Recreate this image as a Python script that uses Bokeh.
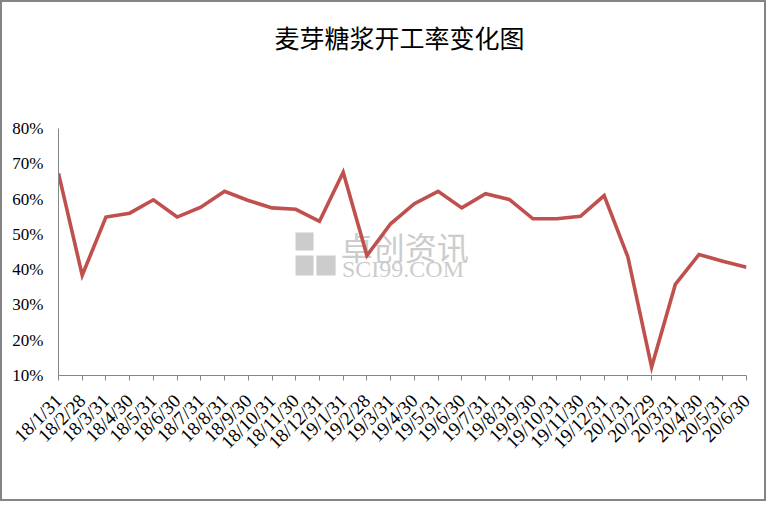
from bokeh.plotting import figure
from bokeh.models import Range1d, FixedTicker, Label, BoxAnnotation
from bokeh.embed import file_html
from bokeh.resources import INLINE
from math import pi

dates = ["18/1/31", "18/2/28", "18/3/31", "18/4/30", "18/5/31", "18/6/30",
         "18/7/31", "18/8/31", "18/9/30", "18/10/31", "18/11/30", "18/12/31",
         "19/1/31", "19/2/28", "19/3/31", "19/4/30", "19/5/31", "19/6/30",
         "19/7/31", "19/8/31", "19/9/30", "19/10/31", "19/11/30", "19/12/31",
         "20/1/31", "20/2/29", "20/3/31", "20/4/30", "20/5/31", "20/6/30"]
rates = [67.3, 38.4, 54.9, 56.0, 59.8, 54.9,
         57.7, 62.2, 59.6, 57.5, 57.1, 53.7,
         67.6, 44.0, 53.0, 58.7, 62.2, 57.5,
         61.5, 59.9, 54.4, 54.4, 55.1, 61.0,
         43.6, 12.4, 35.8, 44.3, 42.4, 40.7]
y_ticks = [10, 20, 30, 40, 50, 60, 70, 80]
y_tick_labels = ["10%", "20%", "30%", "40%", "50%", "60%", "70%", "80%"]
title_text = "麦芽糖浆开工率变化图"

xs = list(range(len(dates)))

# the frame reaches up to the top so the title can sit inside it;
# the y axis line itself is bounded to 10%..80%
p = figure(width=766, height=501, output_backend="svg", toolbar_location=None,
           x_range=Range1d(0, len(dates) - 1), y_range=Range1d(y_ticks[0], 112.87),
           min_border_left=56, min_border_right=22, min_border_top=10, min_border_bottom=128,
           background_fill_color="white", border_fill_color="white")
p.styles = {"border": "2px solid #858585"}
p.outline_line_color = None
p.xgrid.grid_line_color = None
p.ygrid.grid_line_color = None

# watermark
wm_color = "#cccccc"
p.add_layout(BoxAnnotation(left=9.99, right=10.75, bottom=45.43, top=50.53,
                           fill_color=wm_color, fill_alpha=1, line_color=None, level="underlay"))
p.add_layout(BoxAnnotation(left=9.99, right=10.75, bottom=38.34, top=44.0,
                           fill_color=wm_color, fill_alpha=1, line_color=None, level="underlay"))
p.add_layout(BoxAnnotation(left=10.87, right=11.68, bottom=38.34, top=44.0,
                           fill_color=wm_color, fill_alpha=1, line_color=None, level="underlay"))
p.add_layout(Label(x=11.9, y=46.8, text="卓创资讯", text_font="Noto Sans CJK SC",
                   text_font_size="32px", text_color=wm_color, text_baseline="middle",
                   level="underlay"))
p.add_layout(Label(x=11.95, y=40.3, text="SCI99.COM", text_font="Liberation Serif",
                   text_font_size="24px", text_color=wm_color, text_baseline="middle",
                   level="underlay"))

p.line(xs, rates, line_color="#C0504D", line_width=3.6, line_join="miter")

# chart title
p.add_layout(Label(x=14.37, y=105.8, text=title_text, text_font="Noto Sans CJK SC",
                   text_font_size="25px", text_color="#000000", text_align="center",
                   text_baseline="middle"))

ax = p.xaxis[0]
ax.ticker = FixedTicker(ticks=xs)
ax.major_label_overrides = {i: d for i, d in enumerate(dates)}
ax.major_label_orientation = pi / 4
ax.major_label_text_font = "Liberation Serif"
ax.major_label_text_font_size = "19px"
ax.major_label_text_color = "#000000"
ax.major_label_standoff = 17
ax.axis_line_color = "#868686"
ax.major_tick_line_color = "#868686"
ax.major_tick_out = 5
ax.major_tick_in = 0
ax.minor_tick_line_color = None

ay = p.yaxis[0]
ay.ticker = FixedTicker(ticks=y_ticks)
ay.bounds = (y_ticks[0], y_ticks[-1])
ay.major_label_overrides = {v: s for v, s in zip(y_ticks, y_tick_labels)}
ay.major_label_text_font = "Liberation Serif"
ay.major_label_text_font_size = "17px"
ay.major_label_text_color = "#000000"
ay.major_label_standoff = 15
ay.axis_line_color = "#868686"
ay.major_tick_line_color = None
ay.major_tick_out = 0
ay.major_tick_in = 0
ay.minor_tick_line_color = None

open("out.html", "w").write(file_html(p, INLINE))
